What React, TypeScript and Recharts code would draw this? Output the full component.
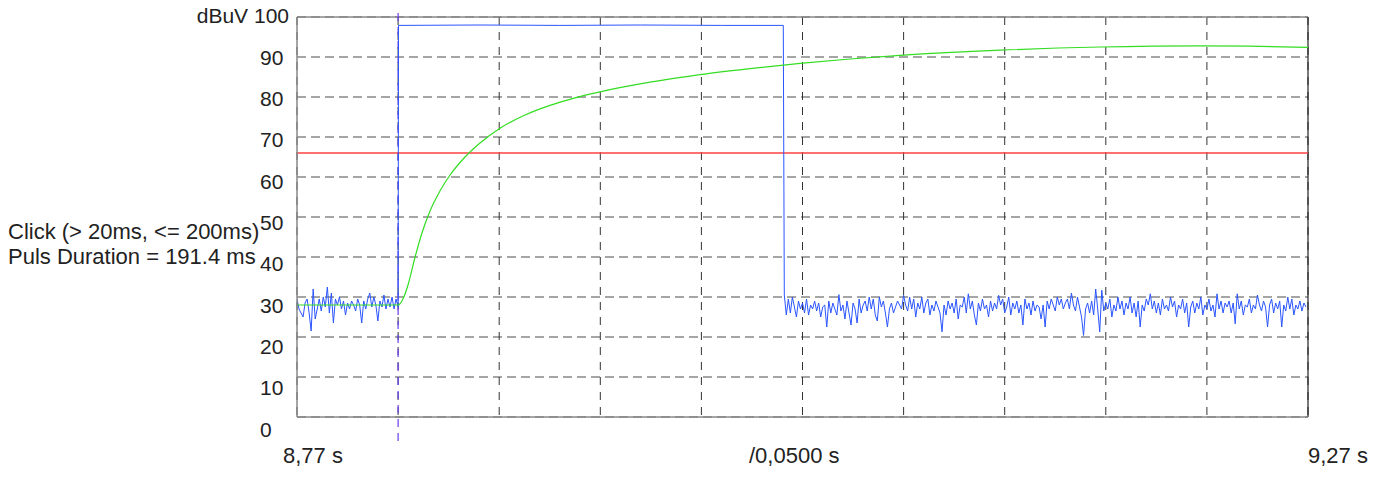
import React from 'react';
import { LineChart, Line, XAxis, YAxis, CartesianGrid, ReferenceLine } from 'recharts';

// blue trace: noise before the pulse, sampled every 1 ms from 8.770 s
const noiseBeforeStart = 8.77;
const noiseBefore = [
  29.5, 27, 26, 25, 28.5, 29.5, 26, 21.5, 32, 24.5,
  27, 29.5, 26.5, 30, 27.5, 32.5, 26, 31, 23.5, 29.5,
  28, 30, 27, 29, 25.5, 28.5, 27, 29, 28, 26.5,
  29.5, 28, 23.5, 29, 27, 29.5, 31, 27.5, 30, 28,
  24, 29, 27.5, 30.5, 27, 29.5, 27.5, 30, 27, 29.5,
  27.5,
];

// blue trace: pulse top
const pulseTimes = [8.8202, 8.86, 8.9, 8.94, 8.98, 9.0105];
const pulseValues = [97.9, 98, 97.9, 98, 97.9, 97.9];

// blue trace: noise after the pulse, every 1 ms from 9.011 s
const noiseAfterStart = 9.011;
const noiseAfter = [
  30.5, 25.5, 29.5, 26, 30, 27.5, 25, 29, 27, 28.5, 26, 29.5, 25.5, 28, 27, 29, 26.5, 28.5, 25, 27.5,
  28, 22.5, 29, 26, 28.5, 27, 25.5, 30.6, 26.5, 28, 24.5, 29, 26, 23, 28.5, 27, 23.5, 29.5, 26, 28,
  29, 26.5, 30, 27, 29.5, 25.5, 24, 30, 27.5, 29, 26, 22.5, 27, 28.5, 26, 27.5, 29, 28, 27, 30.4,
  28, 26.5, 30, 27, 29.5, 25, 28.5, 27, 30, 26, 28.5, 29.5, 25.5, 28, 26.5, 29, 27.5, 26, 21.3, 28,
  25.5, 29, 27, 28.5, 26, 29.5, 24.5, 28, 27.5, 30, 26, 30.8, 27, 29, 25.5, 23, 28.5, 26.5, 29.5, 27,
  28, 25, 29, 26.5, 28.5, 27, 30.4, 28, 29.5, 26, 27.5, 30, 25.5, 28.5, 27, 29, 26, 28, 23, 29.5,
  27, 28.5, 25.5, 29, 26.5, 28, 27.5, 24.5, 28, 22.5, 29, 27, 29.5, 28, 26.5, 30, 28, 29.5, 27, 28.5,
  29.5, 27, 31, 28, 26.5, 30, 27.5, 25, 20.4, 27, 28.5, 26, 29, 25.5, 32, 27, 21.3, 31.7, 26.5, 28.5,
  27, 29.5, 25, 28, 26.5, 30, 27, 29, 25.5, 28.5, 27, 30, 26, 28.5, 25, 29, 22.5, 28, 26.5, 29.5,
  28, 30.8, 27, 29, 26, 28.5, 25.5, 29.5, 27, 28, 26.5, 30, 27.5, 29, 25, 28, 27, 29.5, 26, 28.5,
  22.5, 27.5, 29, 26, 28.5, 27, 30, 25.5, 28, 27, 29.5, 26.5, 28, 25, 30.8, 27, 29, 26, 28.5, 27.5,
  29, 26, 28.5, 23.3, 30.8, 27, 29, 25.5, 28, 27.5, 29.5, 26, 28, 27, 30.5, 28, 26.5, 29, 27.5, 22.5,
  28, 29.5, 26, 28.5, 27, 29, 22.5, 28, 26.5, 30, 27, 29.5, 25.5, 28, 27, 29, 26.5, 28.5, 27.5,
];

// green trace (smoothed level)
const greenTimes = [
  8.77, 8.82, 8.8224, 8.8249, 8.8284, 8.8318, 8.8358, 8.8407, 8.8457, 8.8531,
  8.8605, 8.8704, 8.8828, 8.8951, 8.9075, 8.9199, 8.9446, 8.9693, 8.994, 9.0188,
  9.0435, 9.0682, 9.1177, 9.1671, 9.2166, 9.2413, 9.27,
];
const greenValues = [
  28, 28, 29.5, 33, 40, 46, 51.5, 56.5, 60.5, 65,
  68.5, 72.2, 75.5, 77.9, 79.8, 81.3, 83.7, 85.6, 87.1, 88.4,
  89.5, 90.4, 91.7, 92.5, 92.8, 92.7, 92.4,
];

// red limit line
const limitTimes = [8.77, 9.27];
const limitValues = [66, 66];

const xTicks = [8.77, 8.82, 8.87, 8.92, 8.97, 9.02, 9.07, 9.12, 9.17, 9.22, 9.27];
const yTicks = [0, 10, 20, 30, 40, 50, 60, 70, 80, 90, 100];
const xLabels: Record<string, string> = { '8.77': '8,77 s', '9.02': '/0,0500 s', '9.27': '9,27 s' };
const markerTime = 8.82;
const markerSpan = [-6, 102.5];

const infoLines = ['Click (> 20ms, <= 200ms)', 'Puls Duration = 191.4 ms'];

const blueData = [
  ...noiseBefore.map((v, i) => ({ t: noiseBeforeStart + i * 0.001, v })),
  ...pulseTimes.map((t, i) => ({ t, v: pulseValues[i] })),
  ...noiseAfter.map((v, i) => ({ t: noiseAfterStart + i * 0.001, v })),
];
const greenData = greenTimes.map((t, i) => ({ t, v: greenValues[i] }));
const limitData = limitTimes.map((t, i) => ({ t, v: limitValues[i] }));

const FONT = '"Liberation Sans", Arial, sans-serif';

const XTick = (props: any) => {
  const { x, y, payload } = props;
  const label = xLabels[payload.value.toFixed(2)];
  if (!label) return null;
  // labels sit a bit off their tick, like the original instrument printout
  let dx = -53.5;
  if (payload.value === xTicks[0]) dx = -14;
  if (payload.value === xTicks[xTicks.length - 1]) dx = 0;
  return (
    <text x={x + dx} y={y + 38} fontSize={22} fill="#222" fontFamily={FONT} textAnchor="start">
      {label}
    </text>
  );
};

const YTick = (props: any) => {
  const { x, y, payload } = props;
  const v = payload.value;
  const dy = 6.3 + (100 - v) * 0.134;
  if (v === 100) {
    return (
      <text x={x} y={y + dy} fontSize={21} fill="#222" fontFamily={FONT} textAnchor="end">
        dBuV 100
      </text>
    );
  }
  return (
    <text x={x - 29} y={y + dy} fontSize={21} fill="#222" fontFamily={FONT} textAnchor="start">
      {v}
    </text>
  );
};

const App = () => {
  return (
    <div style={{ position: 'absolute', left: 0, top: 0, width: 1379, height: 477, background: '#fff' }}>
      <svg width={300} height={477} style={{ position: 'absolute', left: 0, top: 0 }}>
        {infoLines.map((line, i) => (
          <text key={line} x={8} y={239 + i * 25} fontSize={22} fill="#222" fontFamily={FONT}>
            {line}
          </text>
        ))}
      </svg>
      <div style={{ position: 'absolute', left: 0, top: 0 }}>
        <LineChart width={1379} height={477} margin={{ top: 17, right: 71, bottom: 0, left: 0 }}>
          <CartesianGrid horizontal vertical={false} stroke="#888" strokeWidth={1.5} strokeDasharray="9 5" />
          <CartesianGrid horizontal={false} vertical stroke="#333" strokeWidth={1} strokeDasharray="8 7" />
          <XAxis
            dataKey="t"
            type="number"
            domain={[8.77, 9.27]}
            ticks={xTicks}
            allowDataOverflow
            interval={0}
            height={60}
            tickLine={false}
            axisLine={{ stroke: '#888', strokeWidth: 1.5 }}
            tick={<XTick />}
          />
          <YAxis
            type="number"
            domain={[0, 100]}
            ticks={yTicks}
            interval={0}
            width={297}
            allowDataOverflow
            tickLine={false}
            axisLine={{ stroke: '#888', strokeWidth: 1.5 }}
            tick={<YTick />}
          />
          <ReferenceLine y={100} stroke="#888" strokeWidth={1.5} />
          <ReferenceLine x={9.27} stroke="#222" strokeWidth={1.2} />
          <ReferenceLine
            segment={[
              { x: markerTime, y: markerSpan[0] },
              { x: markerTime, y: markerSpan[1] },
            ]}
            ifOverflow="visible"
            stroke="#6a3cf0"
            strokeWidth={1.2}
            strokeDasharray="8 6"
          />
          <Line data={limitData} dataKey="v" type="linear" stroke="#ff4040" strokeWidth={1.6} dot={false} isAnimationActive={false} />
          <Line data={blueData} dataKey="v" type="linear" stroke="#2a55ff" strokeWidth={1} dot={false} isAnimationActive={false} />
          <Line data={greenData} dataKey="v" type="monotone" stroke="#33dd22" strokeWidth={1.2} dot={false} isAnimationActive={false} />
        </LineChart>
      </div>
    </div>
  );
};

export default App;
